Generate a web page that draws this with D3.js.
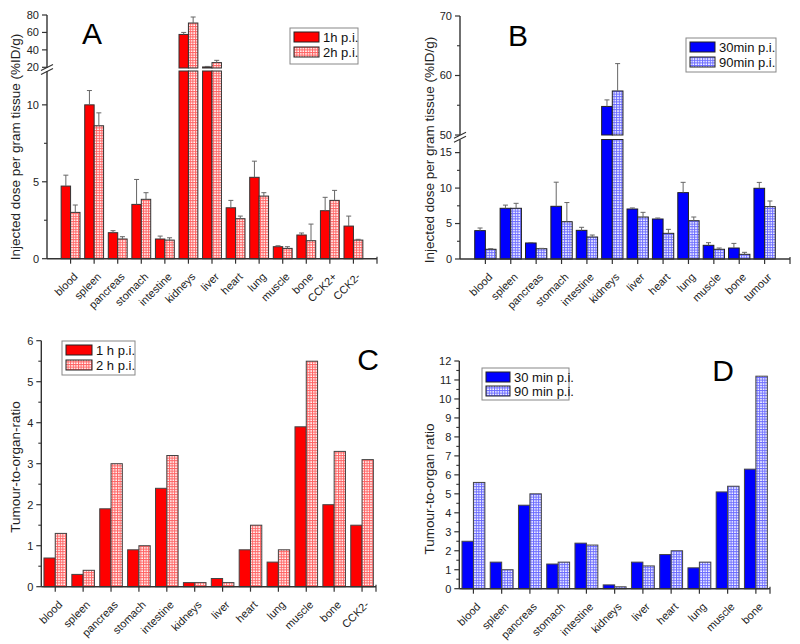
<!DOCTYPE html>
<html><head><meta charset="utf-8">
<script src="https://cdn.jsdelivr.net/npm/d3@7"></script>
<style>body{margin:0;background:#fff}svg{display:block}text{font-family:"Liberation Sans",Arial,sans-serif}</style>
</head><body><svg id="c" width="800" height="644"></svg>
<script>
// ---- Data ----
const catsA = ["blood","spleen","pancreas","stomach","intestine","kidneys","liver","heart","lung","muscle","bone","CCK2+","CCK2-"];
const a1h = [4.72,10.0,1.69,3.53,1.28,57.7,20.4,3.31,5.29,0.78,1.54,3.12,2.12];
const a1hErr = [0.71,0.93,0.13,1.62,0.19,2.3,0.6,0.48,1.05,0.06,0.13,0.87,0.65];
const a2h = [3.01,8.64,1.28,3.86,1.21,70.8,25.4,2.6,4.07,0.67,1.17,3.79,1.21];
const a2hErr = [0.48,0.84,0.15,0.43,0.15,6.9,2.6,0.17,0.22,0.11,1.08,0.65,0.05];
const legA = ["1h p.i.","2h p.i."];

const catsB = ["blood","spleen","pancreas","stomach","intestine","kidneys","liver","heart","lung","muscle","bone","tumour"];
const b30 = [4.0,7.15,2.26,7.43,4.04,54.8,7.05,5.64,9.36,1.93,1.55,9.97];
const b30Err = [0.37,0.45,0.05,3.4,0.43,1.1,0.15,0.14,1.45,0.37,0.65,0.83];
const b90 = [1.37,7.15,1.45,5.26,3.1,57.4,5.92,3.62,5.4,1.37,0.66,7.38];
const b90Err = [0.08,0.7,0.05,2.7,0.28,4.6,0.66,0.56,0.52,0.18,0.28,0.8];
const legB = ["30min p.i.","90min p.i."];

const catsC = ["blood","spleen","pancreas","stomach","intestine","kidneys","liver","heart","lung","muscle","bone","CCK2-"];
const c1h = [0.7,0.3,1.9,0.9,2.4,0.1,0.2,0.9,0.6,3.9,2.0,1.5];
const c2h = [1.3,0.4,3.0,1.0,3.2,0.1,0.1,1.5,0.9,5.5,3.3,3.1];
const legC = ["1 h p.i.","2 h p.i."];

const catsD = ["blood","spleen","pancreas","stomach","intestine","kidneys","liver","heart","lung","muscle","bone"];
const d30 = [2.5,1.4,4.4,1.3,2.4,0.2,1.4,1.8,1.1,5.1,6.3];
const d90 = [5.6,1.0,5.0,1.4,2.3,0.1,1.2,2.0,1.4,5.4,11.2];
const legD = ["30 min p.i.","90 min p.i."];

const ticksA_low = [0,5,10], minorA_low = [2.5,7.5], ticksA_high = [20,40,60,80];
const ticksB_low = [0,5,10,15], minorB_low = [2.5,7.5,12.5], ticksB_high = [50,60,70], minorB_high = [55,65];
const ticksC = d3.range(0,7,1), minorC = d3.range(0.5,6,1);
const ticksD = d3.range(0,13,1), minorD = d3.range(0.5,12,1);

// ---- Drawing ----
const svg = d3.select("#c");
const defs = svg.append("defs");
function hatch(id, color){
  const p = defs.append("pattern").attr("id",id).attr("patternUnits","userSpaceOnUse")
    .attr("width",2.6).attr("height",2.6);
  p.append("rect").attr("width",2.6).attr("height",2.6).attr("fill","#fff");
  p.append("path").attr("d","M0 0.5H2.6M0.5 0V2.6").attr("stroke",color).attr("stroke-width",1).attr("stroke-opacity",0.7);
}
hatch("hr","#ff2020");
hatch("hb","#2a2aff");

const AX = "#333";
function panel(o){
  const g = svg.append("g");
  const x = d3.scaleLinear().domain(o.xDomain).range([o.x0,o.x1]);
  const step = x(1)-x(0);
  const bw = step*o.frac/2;
  const segs = o.segs.map(s=>({...s, sc:d3.scaleLinear().domain(s.domain).range(s.range)}));
  const yOf = v => { for(const s of segs){ if(v<=s.domain[1]) return s.sc(Math.max(v,s.domain[0])); } return segs[segs.length-1].sc(v); };
  const series = [{v:o.s1,e:o.e1,fill:o.fill1,off:-1},{v:o.s2,e:o.e2,fill:o.fill2,off:0}];
  o.cats.forEach((c,i)=>{
    const cx = x(o.pos(i));
    series.forEach(s=>{
      const v = s.v[i];
      const bx = cx + s.off*bw;
      segs.forEach(sg=>{
        if(v<=sg.domain[0]) return;
        const top = sg.sc(Math.min(v,sg.domain[1]));
        const bot = sg.sc(sg.domain[0]);
        g.append("rect").attr("x",bx).attr("y",top).attr("width",bw).attr("height",Math.max(0,bot-top))
          .attr("fill",s.fill).attr("stroke",o.barStroke).attr("stroke-width",1);
      });
      if(s.e){
        const ytop = yOf(v+s.e[i]), yv = yOf(v);
        const ex = bx + bw/2;
        g.append("line").attr("x1",ex).attr("x2",ex).attr("y1",yv).attr("y2",ytop).attr("stroke","#666").attr("stroke-width",1);
        g.append("line").attr("x1",ex-2.5).attr("x2",ex+2.5).attr("y1",ytop).attr("y2",ytop).attr("stroke","#666").attr("stroke-width",1);
      }
    });
  });
  // y axis segments
  segs.forEach(sg=>{
    g.append("line").attr("x1",o.x0).attr("x2",o.x0).attr("y1",sg.range[0]).attr("y2",sg.range[1]).attr("stroke",AX).attr("stroke-width",1.4);
    sg.ticks.forEach(t=>{
      const y = sg.sc(t);
      g.append("line").attr("x1",o.x0-5).attr("x2",o.x0).attr("y1",y).attr("y2",y).attr("stroke",AX).attr("stroke-width",1.2);
      g.append("text").attr("x",o.x0-8).attr("y",y).attr("dy","0.35em").attr("text-anchor","end")
        .attr("font-size",o.tickFs).attr("fill","#222").text(t);
    });
    (sg.minor||[]).forEach(t=>{
      const y = sg.sc(t);
      g.append("line").attr("x1",o.x0-3).attr("x2",o.x0).attr("y1",y).attr("y2",y).attr("stroke",AX).attr("stroke-width",1.1);
    });
  });
  // break marks
  if(segs.length>1){
    const yb = (segs[0].range[1]+segs[1].range[0])/2;
    [-2,2].forEach(d=>{
      g.append("line").attr("x1",o.x0-6).attr("x2",o.x0+6).attr("y1",yb+d+3).attr("y2",yb+d-3).attr("stroke",AX).attr("stroke-width",1.2);
    });
  }
  // x axis
  g.append("line").attr("x1",o.x0).attr("x2",o.x1).attr("y1",o.y0).attr("y2",o.y0).attr("stroke",AX).attr("stroke-width",1.4);
  o.cats.forEach((c,i)=>{
    const cx = x(o.pos(i));
    g.append("line").attr("x1",cx).attr("x2",cx).attr("y1",o.y0).attr("y2",o.y0+5).attr("stroke",AX).attr("stroke-width",1.2);
    g.append("text").attr("transform",`translate(${cx+5},${o.y0+16}) rotate(-45)`).attr("text-anchor","end")
      .attr("dy","0.35em").attr("font-size",o.catFs).attr("fill","#222").text(c);
  });
  g.append("line").attr("x1",o.x1).attr("x2",o.x1).attr("y1",o.y0-2).attr("y2",o.y0+5).attr("stroke",AX).attr("stroke-width",1.2);
  // y title
  g.append("text").attr("transform",`translate(${o.ytx},${o.yty}) rotate(-90)`).attr("text-anchor","middle")
    .attr("dy","0.35em").attr("font-size",o.ytFs).attr("fill","#222").text(o.ytitle);
  // letter
  g.append("text").attr("x",o.letter[1]).attr("y",o.letter[2]).attr("text-anchor","middle").attr("dy","0.35em")
    .attr("font-size",30).attr("fill","#000").text(o.letter[0]);
  // legend
  const L = o.leg;
  g.append("rect").attr("x",L.x).attr("y",L.y).attr("width",L.w).attr("height",L.h).attr("fill","#fff").attr("stroke","#888").attr("stroke-width",1);
  [o.fill1,o.fill2].forEach((f,k)=>{
    const yy = L.y+4+k*L.dy;
    g.append("rect").attr("x",L.x+4).attr("y",yy).attr("width",L.sw).attr("height",L.sh).attr("fill",f).attr("stroke","#222").attr("stroke-width",1);
    g.append("text").attr("x",L.x+L.sw+8).attr("y",yy+L.sh/2).attr("dy","0.35em").attr("font-size",L.fs).attr("fill","#111").text(o.legLabels[k]);
  });
}

panel({cats:catsA,s1:a1h,s2:a2h,e1:a1hErr,e2:a2hErr,fill1:"#ff0000",fill2:"url(#hr)",barStroke:"#333",
  xDomain:[0,14],pos:i=>i+1,x0:47,x1:377,y0:258.7,frac:0.8,
  segs:[{domain:[0,12.2],range:[258.7,71],ticks:ticksA_low,minor:minorA_low},
        {domain:[19.2,80],range:[68,15],ticks:ticksA_high}],
  tickFs:11,catFs:11,ytitle:"Injected dose per gram tissue (%ID/g)",ytx:15,yty:147,ytFs:13.5,
  letter:["A",92,33],leg:{x:290,y:28,w:68,h:36,dy:15,sw:25,sh:10,fs:13},legLabels:legA});

panel({cats:catsB,s1:b30,s2:b90,e1:b30Err,e2:b90Err,fill1:"#0000ff",fill2:"url(#hb)",barStroke:"#222",
  xDomain:[0,13],pos:i=>i+1,x0:460,x1:790,y0:259,frac:0.84,
  segs:[{domain:[0,16.85],range:[259,139.5],ticks:ticksB_low,minor:minorB_low},
        {domain:[50,70],range:[135,16],ticks:ticksB_high,minor:minorB_high}],
  tickFs:11,catFs:11,ytitle:"Injected dose per gram tissue (%ID/g)",ytx:429,yty:150,ytFs:13.5,
  letter:["B",518,35],leg:{x:686,y:38,w:90,h:34,dy:15,sw:25,sh:10,fs:13},legLabels:legB});

panel({cats:catsC,s1:c1h,s2:c2h,fill1:"#ff0000",fill2:"url(#hr)",barStroke:"#444",
  xDomain:[-0.5,11.5],pos:i=>i,x0:41.3,x1:376,y0:586.7,frac:0.81,
  segs:[{domain:[0,6],range:[586.7,340.7],ticks:ticksC,minor:minorC}],
  tickFs:11,catFs:11,ytitle:"Tumour-to-organ-ratio",ytx:15,yty:467,ytFs:13.5,
  letter:["C",368,359],leg:{x:62,y:341,w:73,h:34,dy:15,sw:26,sh:10,fs:13},legLabels:legC});

panel({cats:catsD,s1:d30,s2:d90,fill1:"#0000ff",fill2:"url(#hb)",barStroke:"#444",
  xDomain:[-0.5,10.5],pos:i=>i,x0:459.3,x1:770,y0:588.7,frac:0.81,
  segs:[{domain:[0,12],range:[588.7,361],ticks:ticksD,minor:minorD}],
  tickFs:11,catFs:11,ytitle:"Tumour-to-organ ratio",ytx:429,yty:489,ytFs:13.5,
  letter:["D",723,370],leg:{x:482,y:368,w:87,h:32,dy:14,sw:24,sh:10,fs:13},legLabels:legD});
</script></body></html>
